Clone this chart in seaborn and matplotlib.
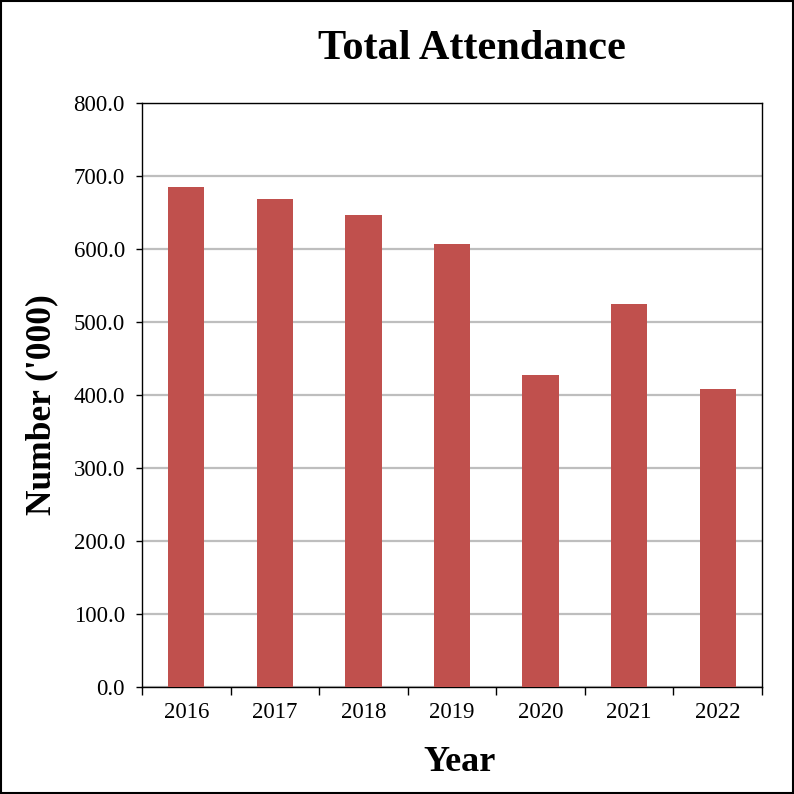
import matplotlib
import numpy as np
import pandas as pd
import matplotlib.pyplot as plt
import seaborn as sns

matplotlib.use('Agg')

# Values (thousands)
years = ['2016', '2017', '2018', '2019', '2020', '2021', '2022']
attendance = [685.4, 669.0, 647.0, 607.0, 427.0, 524.7, 408.0]

df = pd.DataFrame({'year': years, 'attendance': attendance})

sns.set_style('white')
plt.rcParams['font.family'] = ['Liberation Serif', 'DejaVu Serif']
plt.rcParams['text.color'] = 'black'
plt.rcParams['xtick.color'] = 'black'
plt.rcParams['ytick.color'] = 'black'

fig = plt.figure(figsize=(7.94, 7.94), dpi=100)
ax = fig.add_axes([0.1788, 0.1348, 0.7809, 0.7355])

sns.barplot(data=df, x='year', y='attendance', color='#C0504D', width=0.41,
            saturation=1, edgecolor='none', linewidth=0, ax=ax, zorder=3)

ax.set_ylim(0, 800)
ax.set_xlim(-0.5, 6.5)
ax.set_yticks(np.arange(0, 801, 100))
ax.set_yticklabels([f'{v:.1f}' for v in np.arange(0, 801, 100)])
ax.yaxis.grid(True, color='#BEBEBE', linewidth=1.6, zorder=0)
ax.xaxis.grid(False)
ax.set_axisbelow(True)

# ticks between the categories on x
ax.set_xticks(np.arange(-0.5, 7, 1), minor=True)
ax.tick_params(axis='x', which='major', length=0, pad=11, labelsize=16.5, labelcolor='black')
ax.tick_params(axis='x', which='minor', length=5.5, width=1, color='black', direction='out')
ax.tick_params(axis='y', which='major', length=4.3, width=1, color='black',
               direction='out', pad=8, labelsize=16.5, labelcolor='black')
ax.tick_params(left=True, bottom=True, which='both')

for s in ax.spines.values():
    s.set_color('black')
    s.set_linewidth(1)

ax.set_xlabel('')
ax.set_ylabel('')

fig.text(0.594, 0.938, 'Total Attendance', ha='center', va='center',
         fontsize=30.5, fontweight='bold', color='black')
fig.text(0.053, 0.49, "Number ('000)", ha='center', va='center',
         rotation=90, fontsize=25.5, fontweight='bold', color='black')
fig.text(0.579, 0.040, 'Year', ha='center', va='center',
         fontsize=26, fontweight='bold', color='black')

# frame around the whole picture
fig.patches.append(matplotlib.patches.Rectangle((0.001, 0.001), 0.998, 0.998,
                                                transform=fig.transFigure, fill=False,
                                                edgecolor='black', linewidth=1.5))

plt.savefig('out.png', dpi=100)
